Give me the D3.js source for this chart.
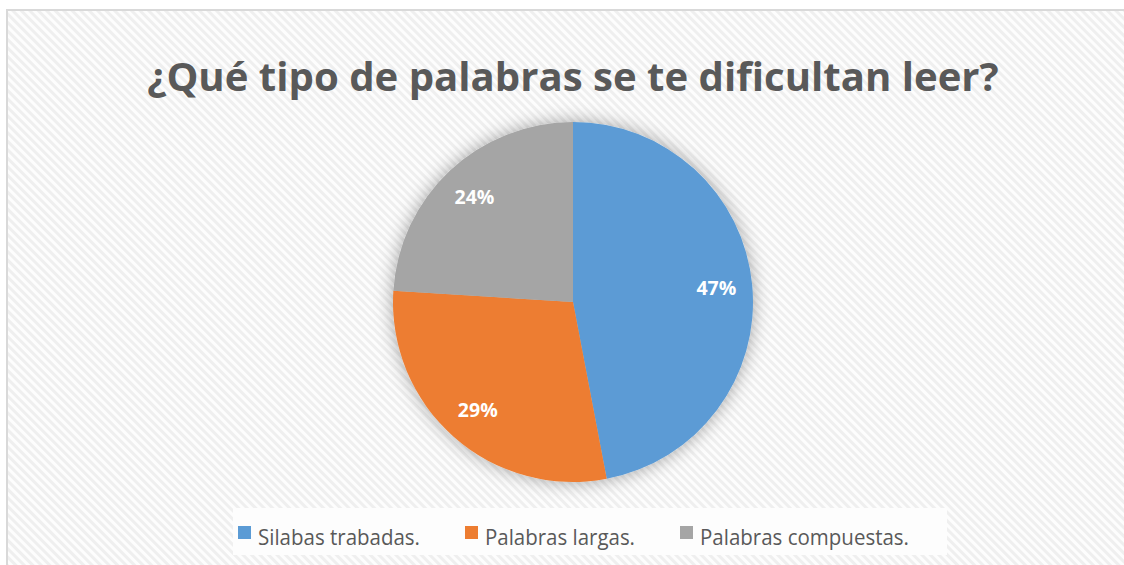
<!DOCTYPE html>
<html>
<head>
<meta charset="utf-8">
<script src="https://cdn.jsdelivr.net/npm/d3@7"></script>
<style>
  body { margin: 0; background: #fff; }
  svg { display: block; }
</style>
</head>
<body>
<div id="chart"></div>
<script>
// chart data
var titleText = "¿Qué tipo de palabras se te dificultan leer?";
var categories = ["Silabas trabadas.", "Palabras largas.", "Palabras compuestas."];
var values = [47, 29, 24];
var colors = ["#5B9BD5", "#ED7D31", "#A5A5A5"];

var width = 1124, height = 565;
var cx = 573, cy = 302, radius = 180;

var svg = d3.select("#chart").append("svg")
    .attr("width", width)
    .attr("height", height);

var defs = svg.append("defs");

// diagonal hatch background
var pat = defs.append("pattern")
    .attr("id", "hatch")
    .attr("patternUnits", "userSpaceOnUse")
    .attr("width", 6).attr("height", 6)
    .attr("patternTransform", "rotate(-45)");
pat.append("rect").attr("width", 6).attr("height", 6).attr("fill", "#fdfdfd");
pat.append("rect").attr("width", 3).attr("height", 6).attr("fill", "#efefef");

var shadow = defs.append("filter")
    .attr("id", "shadow")
    .attr("x", "-30%").attr("y", "-30%")
    .attr("width", "160%").attr("height", "160%");
shadow.append("feDropShadow")
    .attr("dx", 0).attr("dy", 0)
    .attr("stdDeviation", 9)
    .attr("flood-color", "#000")
    .attr("flood-opacity", 0.35);

// frame
svg.append("rect")
    .attr("x", 7).attr("y", 10)
    .attr("width", width).attr("height", height)
    .attr("fill", "url(#hatch)")
    .attr("stroke", "#d9d9d9")
    .attr("stroke-width", 2);

// title, sized to the reference width
var title = svg.append("text")
    .attr("x", cx).attr("y", 91)
    .attr("text-anchor", "middle")
    .attr("font-family", "'Open Sans', sans-serif")
    .attr("font-weight", "bold")
    .attr("font-size", 48)
    .attr("fill", "#595959")
    .text(titleText);
var tw = title.node().getComputedTextLength();
title.attr("font-size", 48 * 852 / tw);

// pie
var pie = d3.pie().sort(null).value(function (d) { return d; });
var arc = d3.arc().innerRadius(0).outerRadius(radius);
var labelArc = d3.arc().innerRadius(radius * 0.8).outerRadius(radius * 0.8);

var g = svg.append("g")
    .attr("transform", "translate(" + cx + "," + cy + ")");

g.append("g")
    .attr("filter", "url(#shadow)")
    .selectAll("path")
    .data(pie(values))
    .enter().append("path")
    .attr("d", arc)
    .attr("fill", function (d, i) { return colors[i]; });

g.selectAll("text.lbl")
    .data(pie(values))
    .enter().append("text")
    .attr("class", "lbl")
    .attr("transform", function (d) { return "translate(" + labelArc.centroid(d) + ")"; })
    .attr("text-anchor", "middle")
    .attr("dy", "0.35em")
    .attr("font-family", "'Open Sans', sans-serif")
    .attr("font-weight", "bold")
    .attr("font-size", 19.5)
    .attr("fill", "#fff")
    .text(function (d) { return d.value + "%"; });

// legend
var legX = [238, 465, 680];
var legW = [162, 150, 209];

svg.append("rect")
    .attr("x", 233).attr("y", 508)
    .attr("width", 714).attr("height", 47)
    .attr("fill", "#fdfdfd");

var leg = svg.selectAll("g.leg")
    .data(categories)
    .enter().append("g")
    .attr("class", "leg")
    .attr("transform", function (d, i) { return "translate(" + legX[i] + ",0)"; });

leg.append("rect")
    .attr("x", 0).attr("y", 526)
    .attr("width", 13).attr("height", 13)
    .attr("fill", function (d, i) { return colors[i]; });

leg.append("text")
    .attr("x", 20).attr("y", 545)
    .attr("font-family", "'Open Sans', sans-serif")
    .attr("font-size", 21)
    .attr("fill", "#595959")
    .attr("textLength", function (d, i) { return legW[i]; })
    .attr("lengthAdjust", "spacingAndGlyphs")
    .text(function (d) { return d; });
</script>
</body>
</html>
